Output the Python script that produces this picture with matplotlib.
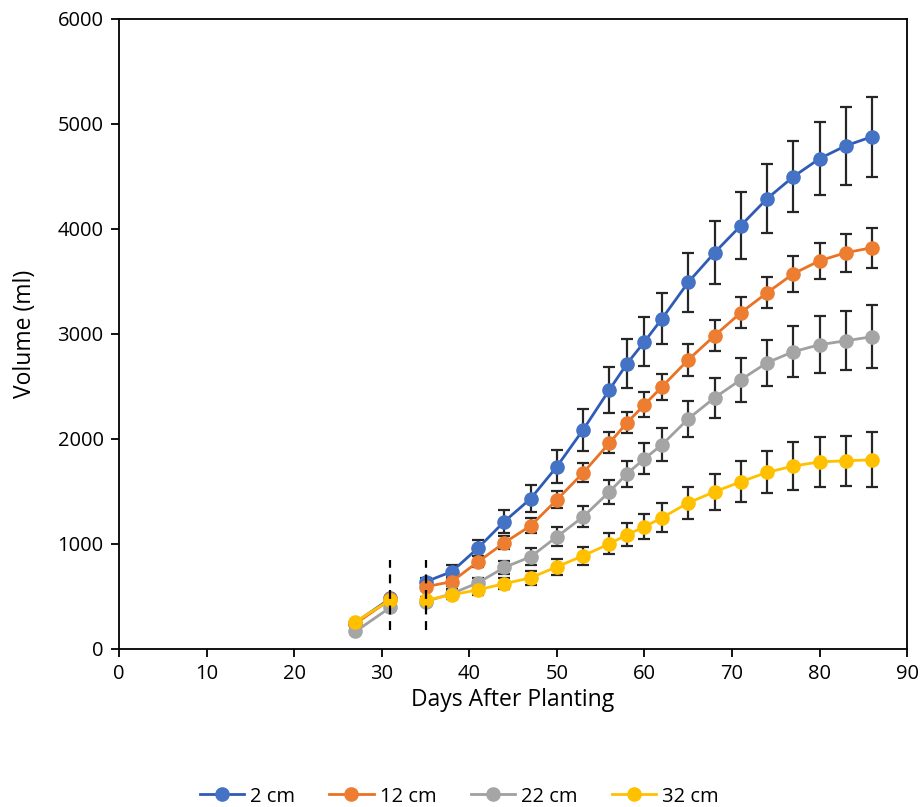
import numpy as np
import matplotlib
matplotlib.use("Agg")
import matplotlib.pyplot as plt

plt.rcParams["font.family"] = ["Open Sans", "DejaVu Sans"]

# Days after planting
early_days = [27, 31]
days = [35, 38, 41, 44, 47, 50, 53, 56, 58, 60, 62, 65, 68, 71, 74, 77, 80, 83, 86]

labels = ["2 cm", "12 cm", "22 cm", "32 cm"]
colors = ["#4472C4", "#ED7D31", "#A5A5A5", "#FFC000"]
line_colors = ["#2F5BB7", "#EA7225", "#A0A0A0", "#FFC000"]

# early measurements (no error bars)
early_2cm = [250, 480]
early_12cm = [240, 470]
early_22cm = [165, 395]
early_32cm = [257, 467]

# volume (ml) from day 35 onward
vol_2cm = [638, 735, 960, 1212, 1429, 1735, 2086, 2467, 2714, 2924, 3143, 3490,
           3771, 4029, 4286, 4495, 4667, 4790, 4876]
vol_12cm = [590, 640, 829, 1010, 1171, 1419, 1676, 1960, 2152, 2324, 2495, 2752,
            2981, 3200, 3390, 3571, 3695, 3771, 3819]
vol_22cm = [450, 525, 629, 775, 876, 1067, 1257, 1495, 1667, 1810, 1943, 2190,
            2390, 2562, 2724, 2829, 2895, 2933, 2971]
vol_32cm = [462, 514, 562, 620, 676, 781, 886, 1000, 1086, 1162, 1248, 1390,
            1495, 1590, 1680, 1740, 1780, 1790, 1800]

# standard error bars
err_2cm = [40, 60, 80, 105, 130, 160, 200, 220, 235, 235, 245, 280,
           300, 320, 330, 340, 350, 370, 380]
err_12cm = [30, 40, 50, 60, 70, 80, 90, 100, 100, 120, 125, 150,
            145, 150, 150, 170, 170, 180, 190]
err_22cm = [30, 40, 50, 65, 80, 90, 100, 115, 125, 145, 155, 170,
            190, 210, 220, 240, 270, 280, 300]
err_32cm = [30, 40, 45, 55, 65, 75, 85, 100, 110, 120, 140, 150,
            170, 195, 200, 230, 240, 240, 260]

early = [early_2cm, early_12cm, early_22cm, early_32cm]
vols = [vol_2cm, vol_12cm, vol_22cm, vol_32cm]
errs = [err_2cm, err_12cm, err_22cm, err_32cm]

fig = plt.figure(figsize=(9.22, 8.07), dpi=100)
ax = fig.add_axes([0.129, 0.196, 0.855, 0.781])

handles = []
for lab, col, lc, e, v, er in zip(labels, colors, line_colors, early, vols, errs):
    ax.errorbar(days, v, yerr=er, fmt="none", ecolor="#262626",
                elinewidth=1.6, capsize=4.5, capthick=1.6, zorder=2)
    ax.plot(early_days, e, color=lc, lw=2, marker="o", ms=9.5,
            markerfacecolor=col, markeredgecolor=col, zorder=3)
    h, = ax.plot(days, v, color=lc, lw=2, marker="o", ms=9.5,
                 markerfacecolor=col, markeredgecolor=col, zorder=3, label=lab)
    handles.append(h)

# dashed markers for the transplanting interval
ax.vlines([31, 35], 180, 850, colors="black", linestyles=(0, (4, 3)), lw=1.6, zorder=4)

ax.set_xlim(0, 90)
ax.set_ylim(0, 6000)
ax.set_xticks(np.arange(0, 91, 10))
ax.set_yticks(np.arange(0, 6001, 1000))
ax.tick_params(direction="out", length=6, width=1.3, labelsize=14.5, colors="black", pad=5)
for s in ax.spines.values():
    s.set_linewidth(1.3)

ax.set_xlabel("Days After Planting", fontsize=16.5, labelpad=3)
ax.set_ylabel("Volume (ml)", fontsize=16.5, labelpad=15)

fig.legend(handles=handles, loc="center", bbox_to_anchor=(0.498, 0.013), ncol=4,
           frameon=False, fontsize=14.5, handlelength=2.2, columnspacing=1.7,
           handletextpad=0.3)

fig.savefig("out.png", dpi=100)
